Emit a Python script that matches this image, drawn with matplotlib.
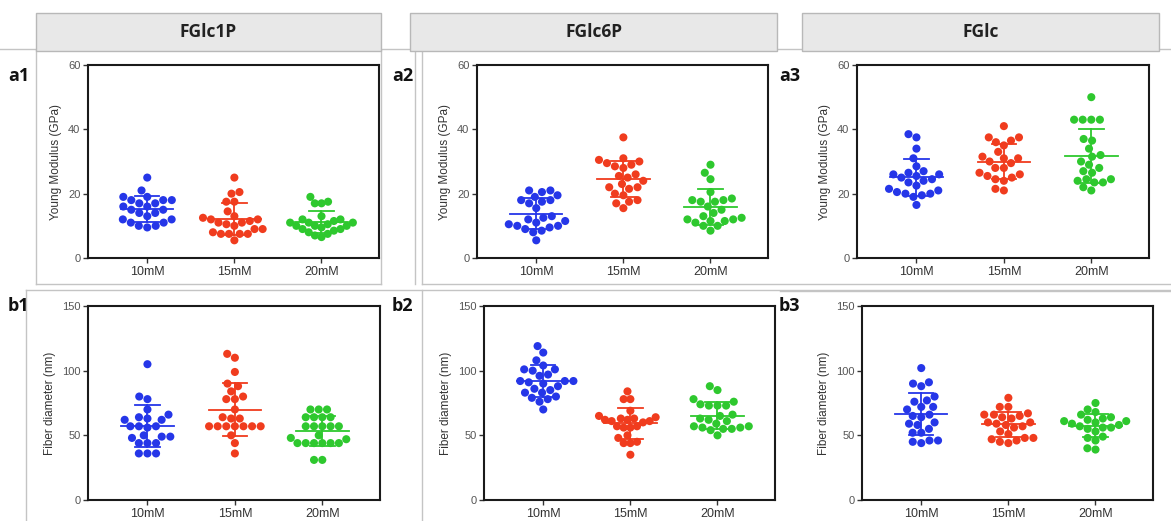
import numpy as np
import matplotlib
matplotlib.use("Agg")
import matplotlib.pyplot as plt
from matplotlib.patches import Rectangle
from matplotlib.lines import Line2D

W, H = 1171, 521
DPI = 100

groups = ["10mM", "15mM", "20mM"]
titles = ["FGlc1P", "FGlc6P", "FGlc"]

# Young modulus (GPa)
ym_fglc1p_10 = [25, 21, 19, 19, 18, 18, 18, 17, 17, 16, 16, 15, 15, 14, 14, 13, 12, 12, 11, 11, 10, 10, 9.5]
ym_fglc1p_15 = [25, 20.5, 20, 17.5, 17.5, 14.5, 13, 12.5, 12, 12, 11.5, 11, 11, 10.5, 10, 9, 9, 8, 7.5, 7.5, 7.5, 7.5, 5.5]
ym_fglc1p_20 = [19, 17.5, 17, 17, 13, 12, 12, 11.5, 11, 11, 11, 10.5, 10, 10, 10, 9.5, 9, 9, 8.5, 8, 7.5, 7, 6.5]

ym_fglc6p_10 = [21, 21, 20.5, 19.5, 19, 18, 18, 17.5, 17, 15.5, 13, 12.5, 12, 11.5, 11, 10.5, 10, 10, 9.5, 9, 8.5, 8, 5.5]
ym_fglc6p_15 = [37.5, 31, 30.5, 30, 29.5, 29, 28.5, 28, 26, 25.5, 25, 24, 23, 22, 22, 21.5, 20, 19.5, 18, 17.5, 17, 15.5]
ym_fglc6p_20 = [29, 26.5, 24.5, 20.5, 18.5, 18, 18, 17.5, 17.5, 16, 15, 14, 13, 12.5, 12, 12, 11.5, 11.5, 11, 10, 10, 8.5]

ym_fglc_10 = [38.5, 37.5, 34, 31, 28.5, 27, 26.5, 26, 26, 25.5, 25, 24.5, 24, 23.5, 22.5, 21.5, 21, 20.5, 20, 20, 19.5, 19, 16.5]
ym_fglc_15 = [41, 37.5, 37.5, 36.5, 36, 35, 33, 31.5, 31, 31, 30, 29.5, 28, 28, 26.5, 26, 25.5, 25, 24.5, 24, 21.5, 21]
ym_fglc_20 = [50, 43, 43, 43, 43, 37, 36.5, 34, 32, 31.5, 30, 29, 28, 27, 26.5, 24.5, 24.5, 24, 23.5, 23.5, 22, 21]

# Fiber diameter (nm)
fd_fglc1p_10 = [105, 80, 78, 70, 66, 64, 63, 62, 62, 57, 57, 57, 56, 50, 49, 49, 48, 44, 44, 44, 36, 36, 36]
fd_fglc1p_15 = [113, 110, 99, 90, 88, 84, 80, 78, 78, 70, 64, 63, 63, 57, 57, 57, 57, 57, 57, 57, 50, 44, 36]
fd_fglc1p_20 = [70, 70, 70, 64, 64, 64, 64, 57, 57, 57, 57, 57, 50, 48, 47, 44, 44, 44, 44, 44, 44, 31, 31]

fd_fglc6p_10 = [119, 114, 108, 104, 101, 101, 100, 97, 96, 92, 92, 92, 91, 90, 88, 86, 85, 83, 83, 80, 79, 78, 76, 70]
fd_fglc6p_15 = [84, 78, 78, 69, 65, 64, 63, 63, 62, 62, 61, 61, 60, 57, 57, 56, 56, 50, 48, 45, 44, 44, 35]
fd_fglc6p_20 = [88, 85, 78, 76, 74, 73, 73, 73, 66, 65, 63, 62, 61, 59, 57, 57, 56, 56, 55, 55, 54, 50]

fd_fglc_10 = [102, 91, 90, 88, 80, 77, 76, 72, 72, 70, 66, 65, 64, 60, 59, 58, 55, 52, 52, 46, 46, 45, 44]
fd_fglc_15 = [79, 72, 72, 67, 66, 66, 65, 64, 63, 60, 60, 59, 58, 57, 56, 53, 51, 48, 48, 47, 46, 45, 44]
fd_fglc_20 = [75, 70, 68, 66, 64, 63, 62, 61, 61, 60, 59, 58, 57, 56, 56, 55, 53, 49, 48, 46, 40, 39]

colors = ["#2536e8", "#f03c1e", "#2ec82e"]

panels = [
    # label, axes box (left, top, right, bottom) in px, data, ylabel, yticks
    ("a1", (88, 65, 379, 258), [ym_fglc1p_10, ym_fglc1p_15, ym_fglc1p_20], "Young Modulus (GPa)", [0, 20, 40, 60]),
    ("a2", (477, 65, 768, 258), [ym_fglc6p_10, ym_fglc6p_15, ym_fglc6p_20], "Young Modulus (GPa)", [0, 20, 40, 60]),
    ("a3", (857, 65, 1149, 258), [ym_fglc_10, ym_fglc_15, ym_fglc_20], "Young Modulus (GPa)", [0, 20, 40, 60]),
    ("b1", (88, 306, 380, 500), [fd_fglc1p_10, fd_fglc1p_15, fd_fglc1p_20], "Fiber diameter (nm)", [0, 50, 100, 150]),
    ("b2", (484, 306, 775, 500), [fd_fglc6p_10, fd_fglc6p_15, fd_fglc6p_20], "Fiber diameter (nm)", [0, 50, 100, 150]),
    ("b3", (862, 306, 1153, 500), [fd_fglc_10, fd_fglc_15, fd_fglc_20], "Fiber diameter (nm)", [0, 50, 100, 150]),
]
label_pos = {"a1": (8, 76), "a2": (392, 76), "a3": (779, 76),
             "b1": (8, 306), "b2": (392, 306), "b3": (779, 306)}

XLIM = (-0.68, 2.66)
DOT_PX = 8.0
MAX_SPREAD = 0.36


def fx(x):
    return x / W


def fy(y):
    return 1 - y / H


def swarm(values, xppu, yppu, d):
    """Beeswarm offsets (in x data units) so that dots of diameter d px do not overlap."""
    vals = np.asarray(values, float)
    order = np.argsort(vals)
    placed = []  # (x_px, y_px)
    offs = np.zeros(len(vals))
    for i in order:
        y = vals[i] * yppu
        cands = [0.0]
        for (px, py) in placed:
            dy = abs(py - y)
            if dy < d:
                dx = np.sqrt(d * d - dy * dy)
                cands += [px + dx, px - dx]
        cands = sorted(cands, key=lambda c: (abs(c), c))
        for c in cands:
            ok = all((c - px) ** 2 + (y - py) ** 2 >= d * d - 1e-6 for (px, py) in placed)
            if ok:
                break
        placed.append((c, y))
        offs[i] = c / xppu
    # keep the cloud within the category band; dense rows may overlap a little
    widest = np.abs(offs).max()
    if widest > MAX_SPREAD:
        offs *= MAX_SPREAD / widest
    return offs


fig = plt.figure(figsize=(W / DPI, H / DPI), dpi=DPI)
fig.patch.set_facecolor("white")

frame_col = "#c4c4c4"


def hline(y, x0, x1, col=frame_col, lw=1.0):
    fig.add_artist(Line2D([fx(x0), fx(x1)], [fy(y), fy(y)], transform=fig.transFigure,
                          color=col, lw=lw, zorder=0))


def vline(x, y0, y1, col=frame_col, lw=1.0):
    fig.add_artist(Line2D([fx(x), fx(x)], [fy(y0), fy(y1)], transform=fig.transFigure,
                          color=col, lw=lw, zorder=0))


# frames around the panels
hline(49, 0, W)
vline(36, 50, 284); hline(284, 36, 381); vline(381, 50, 284)
vline(415, 50, 284); vline(422, 50, 284); hline(284, 422, W)
hline(290, 26, W); hline(291, 780, W)
vline(26, 290, H); vline(422, 290, H)

# header tabs
tabs = [(36, 381), (410, 777), (802, 1159)]
for (x0, x1), t in zip(tabs, titles):
    fig.add_artist(Rectangle((fx(x0), fy(51)), (x1 - x0) / W, 38 / H, transform=fig.transFigure,
                             facecolor="#e8e8e8", edgecolor="#b8b8b8", lw=1.0, zorder=1))
    fig.text(fx((x0 + x1) / 2), fy(32), t, ha="center", va="center", fontsize=12.5,
             fontweight="bold", family="Open Sans", color="#222222")

for lab, (l, t, r, b), data, ylab, yticks in panels:
    ax = fig.add_axes([fx(l), fy(b), (r - l) / W, (b - t) / H])
    ymax = yticks[-1]
    ax.set_xlim(*XLIM)
    ax.set_ylim(0, ymax)
    xppu = (r - l) / (XLIM[1] - XLIM[0])
    yppu = (b - t) / ymax
    for k, (vals, col) in enumerate(zip(data, colors)):
        v = np.asarray(vals, float)
        xo = swarm(v, xppu, yppu, DOT_PX + 0.6)
        ax.scatter(k + xo, v, s=34, color=col, edgecolors="none", zorder=2, clip_on=False)
        m = v.mean()
        sd = v.std(ddof=1)
        ax.plot([k - 0.3, k + 0.3], [m, m], color=col, lw=1.3, zorder=3)
        ax.plot([k, k], [m - sd, m + sd], color=col, lw=1.3, zorder=3)
        ax.plot([k - 0.14, k + 0.14], [m + sd, m + sd], color=col, lw=1.3, zorder=3)
        ax.plot([k - 0.14, k + 0.14], [m - sd, m - sd], color=col, lw=1.3, zorder=3)
    ax.set_xticks(range(len(groups)))
    ax.set_xticklabels(groups, fontsize=9, family="Liberation Sans", color="#333333")
    ax.set_yticks(yticks)
    ax.set_yticklabels([str(y) for y in yticks], fontsize=8, family="Liberation Sans", color="#555555")
    ax.set_ylabel(ylab, fontsize=8.5, family="Liberation Sans", color="#333333", labelpad=4)
    for sp in ax.spines.values():
        sp.set_linewidth(1.5)
        sp.set_color("#1a1a1a")
    ax.tick_params(axis="both", direction="out", length=3.5, width=1.0, color="#333333", pad=2)
    ax.set_facecolor("white")
    lx, ly = label_pos[lab]
    fig.text(fx(lx), fy(ly), lab, ha="left", va="center", fontsize=13, fontweight="bold",
             family="Open Sans", color="#111111")

fig.savefig("out.png", dpi=DPI, facecolor="white")
